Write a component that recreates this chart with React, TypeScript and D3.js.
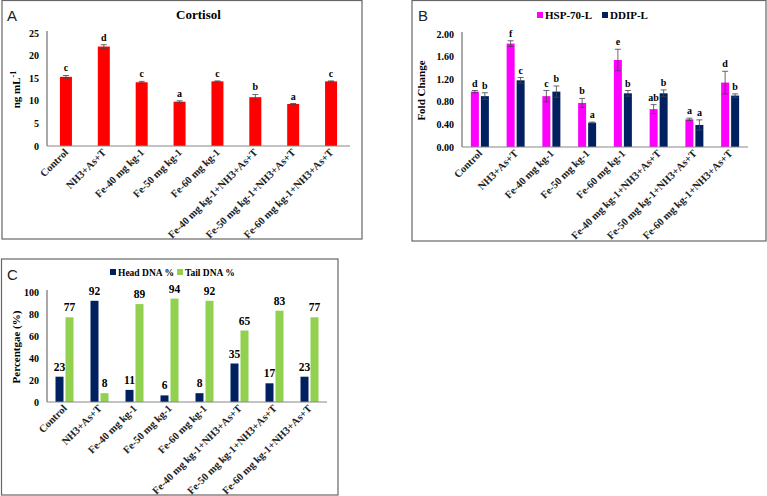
import * as d3 from "d3";

// treatment groups shared by all three panels
const categories = [
  "Control",
  "NH3+As+T",
  "Fe-40 mg kg-1",
  "Fe-50 mg kg-1",
  "Fe-60 mg kg-1",
  "Fe-40 mg kg-1+NH3+As+T",
  "Fe-50 mg kg-1+NH3+As+T",
  "Fe-60 mg kg-1+NH3+As+T",
];

// A: cortisol
const cortisol = [15.3, 22.0, 14.1, 9.8, 14.3, 10.8, 9.3, 14.3];
const cortisolErr = [0.3, 0.4, 0.2, 0.2, 0.1, 0.6, 0.1, 0.1];
const cortisolSig = ["c", "d", "c", "a", "c", "b", "a", "c"];
const cortisolTicks = [0, 5, 10, 15, 20, 25];

// B: gene expression
const hsp = [0.98, 1.83, 0.9, 0.78, 1.54, 0.67, 0.49, 1.14];
const hspErr = [0.02, 0.05, 0.1, 0.08, 0.19, 0.08, 0.02, 0.2];
const hspSig = ["d", "f", "c", "b", "e", "ab", "a", "d"];
const ddip = [0.9, 1.18, 0.98, 0.43, 0.95, 0.95, 0.39, 0.91];
const ddipErr = [0.06, 0.05, 0.1, 0.01, 0.05, 0.06, 0.09, 0.03];
const ddipSig = ["b", "c", "b", "a", "b", "b", "a", "b"];
const foldTicks = [0, 0.4, 0.8, 1.2, 1.6, 2.0];

// C: comet assay
const headDNA = [23, 92, 11, 6, 8, 35, 17, 23];
const tailDNA = [77, 8, 89, 94, 92, 65, 83, 77];
const pctTicks = [0, 20, 40, 60, 80, 100];

const SERIF = "'Liberation Serif', 'Times New Roman', serif";
const SANS = "'Liberation Sans', Arial, sans-serif";

type Series = {
  name: string;
  color: string;
  values: number[];
  err?: number[];
  sig?: string[];
  showValue?: boolean;
};

type PanelProps = {
  box: [number, number, number, number];
  letter: string;
  letterPos: [number, number];
  left: number;
  right: number;
  top: number;
  bottom: number;
  yMax: number;
  ticks: number[];
  tickFormat: (v: number) => string;
  yLabel: React.ReactNode;
  yLabelX: number;
  series: Series[];
  barWidth: number;
  barGap: number;
  title?: string;
  legend?: { x: number; y: number; gap: number; size: number };
};

const Panel = (p: PanelProps) => {
  const [bx, by, bw, bh] = p.box;
  const x = d3.scaleBand().domain(categories).range([p.left, p.right]);
  const y = d3.scaleLinear().domain([0, p.yMax]).range([p.bottom, p.top]);
  const n = p.series.length;
  const groupW = n * p.barWidth + (n - 1) * p.barGap;

  return (
    <g>
      <rect x={bx} y={by} width={bw} height={bh} fill="#fff" stroke="#666" strokeWidth={1.2} />
      <text x={p.letterPos[0]} y={p.letterPos[1]} fontFamily={SANS} fontSize={15} fill="#222">
        {p.letter}
      </text>
      {p.title && (
        <text x={(p.left + p.right) / 2} y={19} textAnchor="middle" fontFamily={SERIF} fontWeight="bold" fontSize={13}>
          {p.title}
        </text>
      )}
      {p.legend && (
        <g>
          {p.series.map((s, i) => {
            const lx = p.legend!.x + i * p.legend!.gap;
            return (
              <g key={s.name}>
                <rect x={lx} y={p.legend!.y - 7} width={6} height={6} fill={s.color} />
                <text x={lx + 8} y={p.legend!.y} fontFamily={SERIF} fontWeight="bold" fontSize={p.legend!.size}>
                  {s.name}
                </text>
              </g>
            );
          })}
        </g>
      )}
      {/* y axis */}
      <line x1={p.left} x2={p.left} y1={p.top - 2} y2={p.bottom} stroke="#555" />
      {p.ticks.map((t) => (
        <text key={t} x={p.left - 8} y={y(t) + 3.5} textAnchor="end" fontFamily={SERIF} fontWeight="bold" fontSize={10}>
          {p.tickFormat(t)}
        </text>
      ))}
      <text
        transform={`translate(${p.yLabelX},${(p.top + p.bottom) / 2}) rotate(-90)`}
        textAnchor="middle"
        fontFamily={SERIF}
        fontWeight="bold"
        fontSize={11}
      >
        {p.yLabel}
      </text>
      {/* bars */}
      {categories.map((c, ci) => {
        const cx = (x(c) ?? 0) + x.bandwidth() / 2;
        return (
          <g key={c}>
            {p.series.map((s, si) => {
              const x0 = cx - groupW / 2 + si * (p.barWidth + p.barGap);
              const v = s.values[ci];
              const e = s.err ? s.err[ci] : 0;
              const mid = x0 + p.barWidth / 2;
              const topY = y(v + e);
              return (
                <g key={s.name}>
                  <rect x={x0} y={y(v)} width={p.barWidth} height={y(0) - y(v)} fill={s.color} />
                  {s.err && (
                    <g stroke="#444" strokeWidth={0.8}>
                      <line x1={mid} x2={mid} y1={y(v - e)} y2={y(v + e)} />
                      <line x1={mid - 3} x2={mid + 3} y1={y(v + e)} y2={y(v + e)} />
                      <line x1={mid - 3} x2={mid + 3} y1={y(v - e)} y2={y(v - e)} />
                    </g>
                  )}
                  {s.sig && (
                    <text x={mid} y={topY - 4} textAnchor="middle" fontFamily={SERIF} fontWeight="bold" fontSize={10}>
                      {s.sig[ci]}
                    </text>
                  )}
                  {s.showValue && (
                    <text x={mid} y={y(v) - 6} textAnchor="middle" fontFamily={SERIF} fontWeight="bold" fontSize={11.5}>
                      {v}
                    </text>
                  )}
                </g>
              );
            })}
            <text
              transform={`translate(${cx + 3},${p.bottom + 7}) rotate(-45)`}
              textAnchor="end"
              fontFamily={SERIF}
              fontWeight="bold"
              fontSize={10.5}
              fill="#222"
            >
              {c}
            </text>
          </g>
        );
      })}
      {/* x axis */}
      <line x1={p.left} x2={p.right} y1={p.bottom} y2={p.bottom} stroke="#888" strokeWidth={1.2} />
    </g>
  );
};

const App = () => {
  return (
    <svg width={767} height={496} style={{ position: "absolute", left: 0, top: 0 }}>
      <rect width={767} height={496} fill="#fff" />
      <Panel
        box={[2, 0.5, 360, 238.5]}
        letter="A"
        letterPos={[7, 21]}
        left={47}
        right={350}
        top={33}
        bottom={146}
        yMax={25}
        ticks={cortisolTicks}
        tickFormat={(v) => String(v)}
        yLabel={
          <>
            ng mL
            <tspan dy={-4} fontSize={8}>
              -1
            </tspan>
          </>
        }
        yLabelX={20}
        series={[{ name: "Cortisol", color: "#ff0000", values: cortisol, err: cortisolErr, sig: cortisolSig }]}
        barWidth={12}
        barGap={0}
        title="Cortisol"
      />
      <Panel
        box={[412, 0.5, 354, 240.5]}
        letter="B"
        letterPos={[418, 21]}
        left={462}
        right={748}
        top={34}
        bottom={147}
        yMax={2.0}
        ticks={foldTicks}
        tickFormat={(v) => v.toFixed(2)}
        yLabel="Fold Change"
        yLabelX={425}
        series={[
          { name: "HSP-70-L", color: "#ff00ff", values: hsp, err: hspErr, sig: hspSig },
          { name: "DDIP-L", color: "#002060", values: ddip, err: ddipErr, sig: ddipSig },
        ]}
        barWidth={8}
        barGap={2}
        legend={{ x: 537, y: 19, gap: 65, size: 11 }}
      />
      <Panel
        box={[1.5, 259, 336.5, 236]}
        letter="C"
        letterPos={[7, 280]}
        left={47}
        right={327}
        top={292}
        bottom={402}
        yMax={100}
        ticks={pctTicks}
        tickFormat={(v) => String(v)}
        yLabel="Percentgae (%)"
        yLabelX={20}
        series={[
          { name: "Head DNA %", color: "#002060", values: headDNA, showValue: true },
          { name: "Tail DNA %", color: "#92d050", values: tailDNA, showValue: true },
        ]}
        barWidth={8}
        barGap={2}
        legend={{ x: 110, y: 276, gap: 67, size: 9.5 }}
      />
    </svg>
  );
};

export default App;
